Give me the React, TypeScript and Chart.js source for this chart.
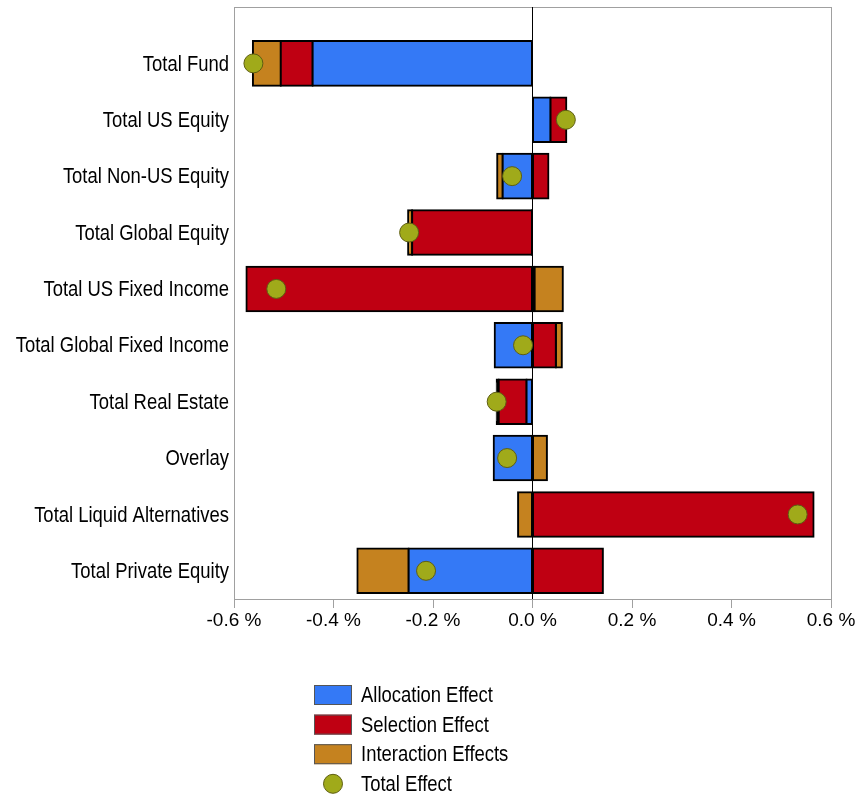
import React, { useEffect, useRef } from "react";
import { Chart, registerables } from "chart.js";

Chart.register(...registerables);

const categories = [
  "Total Fund",
  "Total US Equity",
  "Total Non-US Equity",
  "Total Global Equity",
  "Total US Fixed Income",
  "Total Global Fixed Income",
  "Total Real Estate",
  "Overlay",
  "Total Liquid Alternatives",
  "Total Private Equity",
];

const allocationEffect = [-0.442, 0.036, -0.06, -0.001, 0.004, -0.076, -0.012, -0.078, 0, -0.249];
const selectionEffect = [-0.064, 0.032, 0.032, -0.241, -0.575, 0.047, -0.056, 0, 0.565, 0.1415];
const interactionEffects = [-0.056, 0, -0.011, -0.008, 0.057, 0.012, -0.004, 0.029, -0.029, -0.103];
const totalEffect = [-0.561, 0.067, -0.041, -0.248, -0.515, -0.019, -0.072, -0.051, 0.533, -0.214];

const xTicks = [-0.6, -0.4, -0.2, 0, 0.2, 0.4, 0.6];

const COLORS = {
  allocation: "#3479F6",
  selection: "#BF0012",
  interaction: "#C5821F",
  total: "#A0AA1A",
  totalBorder: "#5E5E12",
  border: "#000000",
};

const REGULAR = "'Liberation Sans', Arial, sans-serif";
const NARROW_SCALE = 0.82;
const LABEL_SIZE = 22.5;

const toPoints = (vals: number[]) => vals.map((v, i) => ({ x: v, y: i }));

// Very thin segments are swallowed by their outline, as in the original rendering.
const fillFor = (color: string) => (c: any) => {
  const xs = c.chart?.scales?.x;
  const v = c.raw?.x;
  if (!xs || typeof v !== "number") return color;
  const px = Math.abs(xs.getPixelForValue(v) - xs.getPixelForValue(0));
  return px < 3 ? COLORS.border : color;
};

function drawNarrowText(ctx: any, text: string, x: number, y: number, align: "left" | "right") {
  ctx.save();
  ctx.translate(x, y);
  ctx.scale(NARROW_SCALE, 1);
  ctx.font = `${LABEL_SIZE}px ${REGULAR}`;
  ctx.textAlign = align;
  ctx.textBaseline = "middle";
  ctx.fillStyle = "#000000";
  ctx.fillText(text, 0, 0);
  ctx.restore();
}

const framePlugin = {
  id: "frameAndZero",
  beforeDatasetsDraw(chart: any) {
    const { ctx, chartArea } = chart;
    const xs = chart.scales.x;
    ctx.save();
    ctx.strokeStyle = "#a0a0a0";
    ctx.lineWidth = 1;
    ctx.strokeRect(
      Math.round(chartArea.left) + 0.5,
      Math.round(chartArea.top) + 0.5,
      Math.round(chartArea.right - chartArea.left),
      Math.round(chartArea.bottom - chartArea.top)
    );
    const zx = Math.round(xs.getPixelForValue(0)) - 0.5;
    ctx.strokeStyle = "#000000";
    ctx.beginPath();
    ctx.moveTo(zx, chartArea.top);
    ctx.lineTo(zx, chartArea.bottom);
    ctx.stroke();
    ctx.restore();
  },
};

const categoryLabelPlugin = {
  id: "categoryLabels",
  afterDraw(chart: any) {
    const { ctx, chartArea } = chart;
    const ys = chart.scales.y;
    categories.forEach((label, i) => {
      const y = ys.getPixelForValue(i);
      drawNarrowText(ctx, label, chartArea.left - 5, y + 1, "right");
    });
  },
};

const legendPlugin = {
  id: "verticalLegend",
  afterDraw(chart: any) {
    const { ctx } = chart;
    const ds = chart.data.datasets;
    const items = [
      { d: ds.find((d: any) => d.label === "Allocation Effect"), color: COLORS.allocation },
      { d: ds.find((d: any) => d.label === "Selection Effect"), color: COLORS.selection },
      { d: ds.find((d: any) => d.label === "Interaction Effects"), color: COLORS.interaction },
      { d: ds.find((d: any) => d.label === "Total Effect"), color: COLORS.total },
    ];
    const x0 = 314;
    const y0 = 695;
    const rowH = 29.6;
    ctx.save();
    items.forEach(({ d, color }: any, i: number) => {
      const cy = y0 + i * rowH;
      if (d.type === "scatter") {
        ctx.beginPath();
        ctx.arc(x0 + 19, cy, 9.5, 0, Math.PI * 2);
        ctx.fillStyle = color;
        ctx.fill();
        ctx.lineWidth = 1;
        ctx.strokeStyle = d.borderColor;
        ctx.stroke();
      } else {
        ctx.fillStyle = color;
        ctx.fillRect(x0, cy - 10, 38, 20);
        ctx.lineWidth = 1;
        ctx.strokeStyle = "#555555";
        ctx.strokeRect(x0 + 0.5, cy - 9.5, 37, 19);
      }
      drawNarrowText(ctx, d.label, 361, cy + 1, "left");
    });
    ctx.restore();
  },
};

export default function App() {
  const canvasRef = useRef<HTMLCanvasElement | null>(null);

  useEffect(() => {
    document.body.style.margin = "0";
    document.body.style.overflow = "hidden";
    const canvas = canvasRef.current;
    if (!canvas) return;

    const barCommon = {
      type: "bar" as const,
      borderColor: COLORS.border,
      borderWidth: 2,
      borderSkipped: false,
      inflateAmount: 1,
      categoryPercentage: 1,
      barPercentage: 0.79,
      stack: "effects",
      order: 1,
    };

    const chart = new Chart(canvas, {
      type: "bar",
      data: {
        datasets: [
          {
            type: "scatter",
            label: "Total Effect",
            data: toPoints(totalEffect),
            backgroundColor: COLORS.total,
            borderColor: COLORS.totalBorder,
            borderWidth: 1,
            pointRadius: 9.5,
            stack: "total",
            order: 0,
          } as any,
          {
            ...barCommon,
            label: "Allocation Effect",
            data: toPoints(allocationEffect),
            backgroundColor: fillFor(COLORS.allocation),
          } as any,
          {
            ...barCommon,
            label: "Selection Effect",
            data: toPoints(selectionEffect),
            backgroundColor: fillFor(COLORS.selection),
          } as any,
          {
            ...barCommon,
            label: "Interaction Effects",
            data: toPoints(interactionEffects),
            backgroundColor: fillFor(COLORS.interaction),
          } as any,
        ],
      },
      options: {
        indexAxis: "y",
        responsive: false,
        animation: false,
        events: [],
        devicePixelRatio: 1,
        layout: { autoPadding: false, padding: { left: 0, top: 7, right: 27, bottom: 0 } },
        plugins: {
          legend: { display: false },
          tooltip: { enabled: false },
        },
        scales: {
          x: {
            type: "linear",
            stacked: true,
            offset: false,
            min: -0.6,
            max: 0.6,
            afterBuildTicks: (scale: any) => {
              scale.ticks = xTicks.map((v) => ({ value: v }));
            },
            afterFit: (scale: any) => {
              scale.height = 796 - 599;
            },
            border: { display: false },
            grid: {
              display: true,
              offset: false,
              drawOnChartArea: false,
              drawTicks: true,
              tickLength: 9,
              tickColor: "#a0a0a0",
            },
            ticks: {
              padding: 1,
              color: "#000000",
              maxRotation: 0,
              autoSkip: false,
              font: { family: REGULAR, size: 19 },
              callback: (v: any) => {
                const n = Number(v);
                return (Math.abs(n) < 1e-9 ? "0.0" : n.toFixed(1)) + " %";
              },
            },
          },
          y: {
            type: "linear",
            stacked: true,
            reverse: true,
            offset: false,
            min: -1,
            max: 9.5,
            afterBuildTicks: (scale: any) => {
              scale.ticks = categories.map((_, i) => ({ value: i }));
            },
            afterFit: (scale: any) => {
              scale.width = 234;
            },
            border: { display: false },
            grid: { display: false, drawTicks: false, offset: false },
            ticks: { display: false },
          },
        },
      },
      plugins: [framePlugin, categoryLabelPlugin, legendPlugin],
    } as any);

    return () => {
      chart.destroy();
    };
  }, []);

  return (
    <div style={{ width: 858, height: 796, position: "relative", background: "#ffffff" }}>
      <canvas ref={canvasRef} width={858} height={796} style={{ display: "block" }} />
    </div>
  );
}
